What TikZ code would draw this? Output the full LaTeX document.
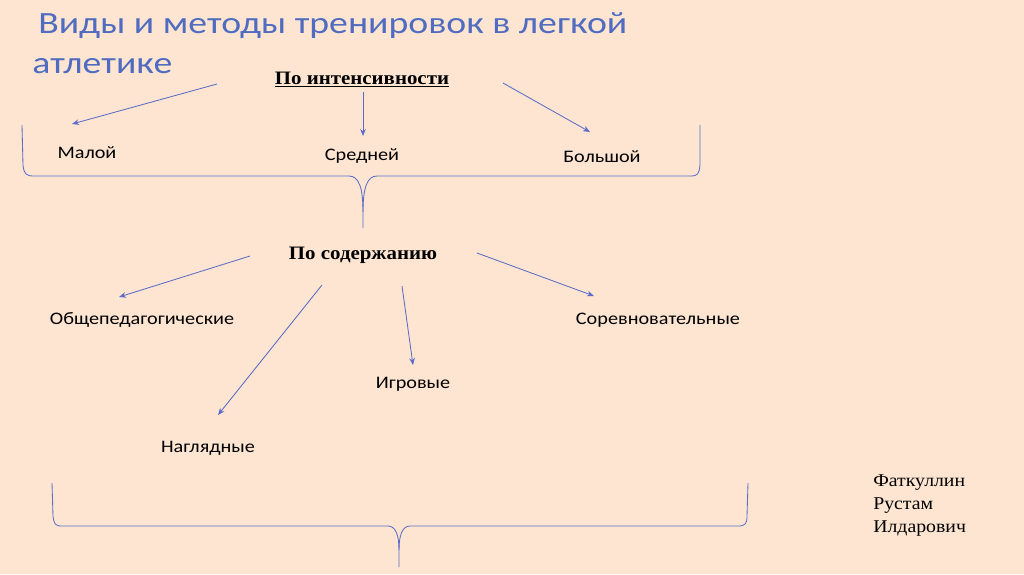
\documentclass[tikz,border=0pt]{standalone}
\usepackage{fontspec}
\setmainfont[FakeStretch=1.1]{Liberation Serif}
\newfontfamily\calfont[FakeStretch=1.15]{Carlito}
\newfontfamily\headfont[FakeStretch=1.22]{Carlito}
\usetikzlibrary{arrows.meta, positioning}
\definecolor{peach}{RGB}{253,229,209}
\definecolor{titleblue}{RGB}{79,108,193}
\definecolor{lineblue}{RGB}{92,108,200}

\begin{document}
\begin{tikzpicture}[x=0.025cm, y=-0.025cm,
    heading/.style={font=\headfont\fontsize{22}{28}\selectfont, text=titleblue, inner sep=0pt, anchor=base west},
    group/.style={font=\bfseries\fontsize{13.5}{16}\selectfont, inner sep=0pt, anchor=base},
    item/.style={font=\calfont\fontsize{12.5}{15}\selectfont, inner sep=0pt, anchor=base},
    arrow/.style={-{Stealth[length=5pt,width=4pt]}, lineblue, line width=0.6pt},
    brace/.style={lineblue, line width=0.6pt}
  ]
  \fill[peach] (0,0) rectangle (1024,574);
  \useasboundingbox (0,0) rectangle (1024,574);

  % Title
  \node[heading] (title1) at (38,33) {Виды и методы тренировок в легкой};
  \node[heading] (title2) at (32,73) {атлетике};

  % By intensity
  \node[group] (intens) at (362,84) {\underline{По интенсивности}};
  \node[item] (low) at (87,158) {Малой};
  \node[item] (mid) at (362,160) {Средней};
  \node[item] (high) at (602,162) {Большой};

  \coordinate (i1a) at (217,84);  \coordinate (i1b) at (72,124);
  \coordinate (i2a) at (363,92);  \coordinate (i2b) at (363,136);
  \coordinate (i3a) at (503,83);  \coordinate (i3b) at (590,132);
  \draw[arrow] (i1a) -- (i1b);
  \draw[arrow] (i2a) -- (i2b);
  \draw[arrow] (i3a) -- (i3b);

  \draw[brace] (22,125) -- (23,165) .. controls (24,174) and (26,176) .. (34,176)
    -- (349,176) .. controls (359,176) and (363,188) .. (363,212) -- (363,228);
  \draw[brace] (363,212) .. controls (363,188) and (367,176) .. (377,176)
    -- (690,176) .. controls (698,176) and (699,174) .. (700,165) -- (700,125);

  % By content
  \node[group] (content) at (363,259) {По содержанию};
  \node[item] (general) at (142,324) {Общепедагогические};
  \node[item] (visual) at (208,452) {Наглядные};
  \node[item] (game) at (413,388) {Игровые};
  \node[item] (compet) at (658,324) {Соревновательные};

  \coordinate (c1a) at (250,256); \coordinate (c1b) at (119,297);
  \coordinate (c2a) at (322,285); \coordinate (c2b) at (218,415);
  \coordinate (c3a) at (402,286); \coordinate (c3b) at (413,365);
  \coordinate (c4a) at (477,253); \coordinate (c4b) at (594,296);
  \draw[arrow] (c1a) -- (c1b);
  \draw[arrow] (c2a) -- (c2b);
  \draw[arrow] (c3a) -- (c3b);
  \draw[arrow] (c4a) -- (c4b);

  \draw[brace] (52,483) -- (53,516) .. controls (54,524) and (55,526) .. (62,526)
    -- (388,526) .. controls (396,526) and (399,536) .. (399,550) -- (399,567);
  \draw[brace] (399,550) .. controls (399,536) and (402,526) .. (410,526)
    -- (738,526) .. controls (745,526) and (747,524) .. (747,516) -- (748,483);

  % Author
  \node[font=\fontsize{12.8}{16.4}\selectfont, align=left, anchor=north west, inner sep=0pt]
    (author) at (873,474) {Фаткуллин\\Рустам\\Илдарович};
\end{tikzpicture}
\end{document}
